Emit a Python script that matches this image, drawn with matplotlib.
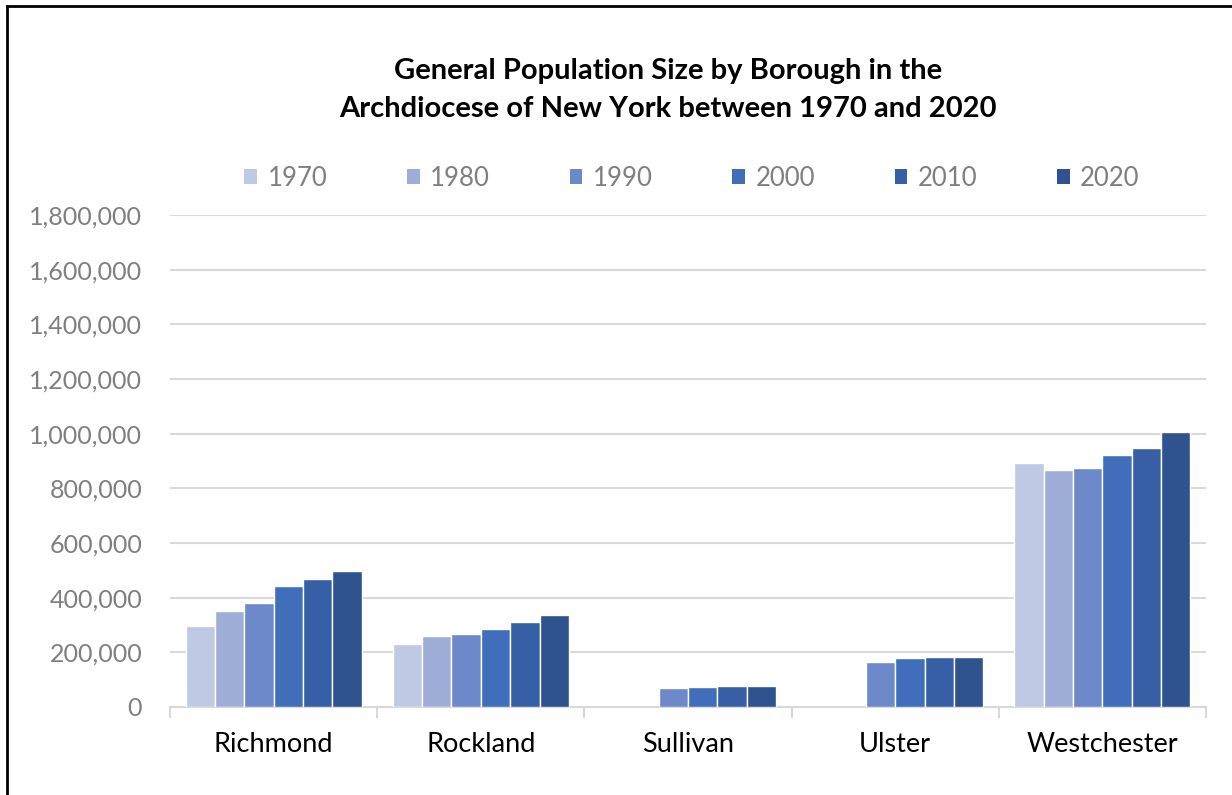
import numpy as np
import matplotlib
matplotlib.use("Agg")
import matplotlib.pyplot as plt
from matplotlib.patches import Patch
from matplotlib.lines import Line2D

plt.rcParams['font.family'] = ['Lato', 'DejaVu Sans']

boroughs = ["Richmond", "Rockland", "Sullivan", "Ulster", "Westchester"]
years = ["1970", "1980", "1990", "2000", "2010", "2020"]
pop = {
    "1970": [295443, 229903, np.nan, np.nan, 894104],
    "1980": [352121, 259530, np.nan, np.nan, 866599],
    "1990": [378977, 265475, 69277, 165304, 874866],
    "2000": [443728, 286753, 73966, 177749, 923459],
    "2010": [468730, 311687, 77547, 182493, 949113],
    "2020": [495747, 338329, 78624, 181851, 1004457],
}
colors = ["#BFC9E3", "#9FAED8", "#6E89CA", "#406EBB", "#375FA6", "#2F538E"]

fig = plt.figure(figsize=(12.32, 7.95), dpi=100)
ax = fig.add_axes([170/1232, 1-707/795, (1206-170)/1232, (707-215)/795])

x = np.arange(len(boroughs))
w = 0.85 / len(years)
for i, yr in enumerate(years):
    ax.bar(x + (i - 2.5) * w, pop[yr], w, color=colors[i],
           edgecolor="white", linewidth=1.0, zorder=3)

ax.set_xlim(-0.5, len(boroughs) - 0.5)
ax.set_ylim(0, 1800000)
ax.set_yticks(np.arange(0, 1800001, 200000))
ax.set_yticklabels([f"{v:,}" for v in range(0, 1800001, 200000)])
ax.grid(axis="y", color="#D9D9D9", linewidth=1.5, zorder=0)
for s in ["top", "right", "left"]:
    ax.spines[s].set_visible(False)
ax.spines["bottom"].set_color("#D9D9D9")
ax.spines["bottom"].set_linewidth(1.5)

ax.set_xticks(x)
ax.set_xticklabels(boroughs)
ax.set_xticks(np.arange(-0.5, len(boroughs)), minor=True)
ax.tick_params(axis="x", which="major", length=0, pad=18, labelsize=19.5, labelcolor="#000000")
ax.tick_params(axis="x", which="minor", length=8, width=1.5, color="#D9D9D9")
ax.tick_params(axis="y", length=0, pad=20, labelsize=18, labelcolor="#7F7F7F")

fig.text(0.542, 1 - 90/795, "General Population Size by Borough in the\nArchdiocese of New York between 1970 and 2020",
         ha="center", va="center", fontsize=21, fontweight="bold", linespacing=1.55)

handles = [Patch(facecolor=c, edgecolor="none") for c in colors]
fig.legend(handles, years, loc="center", bbox_to_anchor=(692/1232, 1 - 178/795),
           ncol=6, frameon=False, fontsize=18.5, labelcolor="#7F7F7F",
           handlelength=0.5, handleheight=0.5, handletextpad=0.4, columnspacing=3.1)

# outer frame (left and top edges)
fig.add_artist(Line2D([7/1232, 7/1232], [0, 1 - 6/795], transform=fig.transFigure, color="black", linewidth=2))
fig.add_artist(Line2D([7/1232, 1], [1 - 6/795, 1 - 6/795], transform=fig.transFigure, color="black", linewidth=2))

fig.savefig("out.png", dpi=100)
